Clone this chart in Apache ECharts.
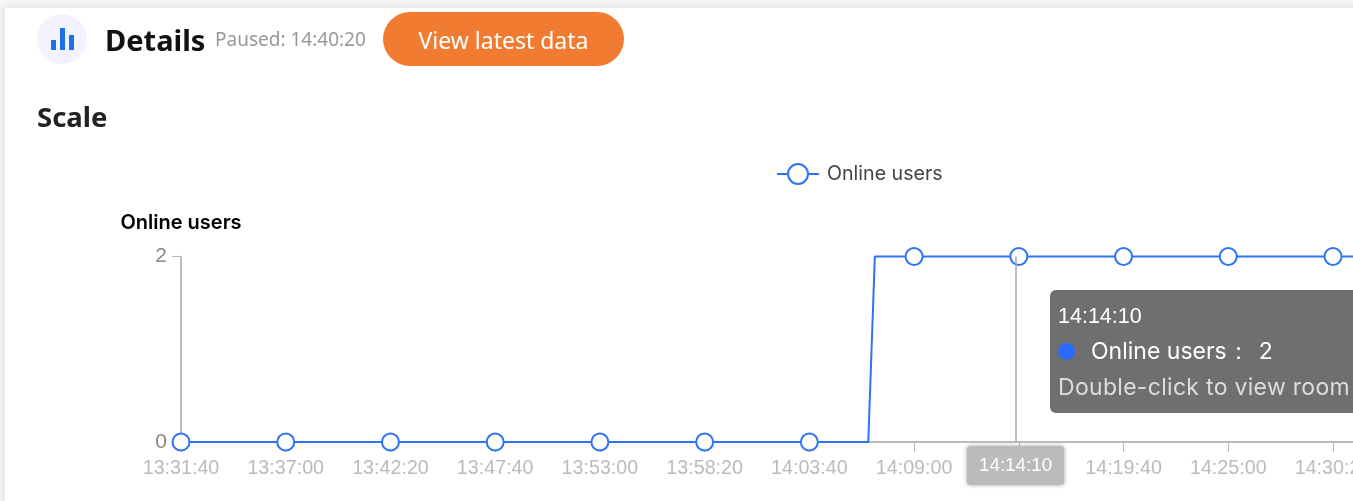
<!DOCTYPE html>
<html>
<head>
<meta charset="utf-8">
<title>Details</title>
<script src="https://cdn.jsdelivr.net/npm/echarts@6/dist/echarts.min.js"></script>
<style>
html,body{margin:0;padding:0;width:1353px;height:501px;overflow:hidden;background:#f6f6f6;font-family:"Noto Sans",sans-serif}
#card{position:absolute;left:5px;top:8px;width:1400px;height:520px;background:#fff;box-shadow:0 0 9px rgba(0,0,0,.12)}
#chart{position:absolute;left:0;top:0;width:1353px;height:501px;overflow:hidden}
.t{position:absolute;white-space:nowrap;line-height:1;z-index:2}
#icon{position:absolute;left:37px;top:14px;width:50px;height:50px;border-radius:50%;background:#f2f3ff;z-index:2}
.b{position:absolute;width:5px;background:#1a73e8;z-index:3}
#btn{position:absolute;left:383px;top:13px;width:241px;height:54px;border-radius:27px;z-index:2;color:#fff;font-size:23px;line-height:54px;text-align:center}
#btnbg{position:absolute;left:383px;top:12px;width:241px;height:54px;border-radius:27px;background:#f27b32;z-index:1}
</style>
</head>
<body>
<div id="card"></div>
<div id="chart"></div>
<div id="icon"></div>
<div class="b" style="left:51px;top:40px;height:10px"></div>
<div class="b" style="left:60px;top:28px;height:22px"></div>
<div class="b" style="left:69px;top:35px;height:15px"></div>
<div class="t" style="left:105px;top:25px;font-size:29px;font-weight:700;color:#111">Details</div>
<div class="t" style="left:215px;top:30px;font-size:19px;color:#999">Paused: 14:40:20</div>
<div id="btnbg"></div>
<div id="btn">View latest data</div>
<div class="t" style="left:37px;top:103px;font-size:27.5px;font-weight:700;color:#222">Scale</div>
<script>
var seriesName = 'Online users';
var yTicks = [0, 2];
var times = [
'13:31:40','13:31:50',
'13:32:00','13:32:10','13:32:20','13:32:30','13:32:40','13:32:50',
'13:33:00','13:33:10','13:33:20','13:33:30','13:33:40','13:33:50',
'13:34:00','13:34:10','13:34:20','13:34:30','13:34:40','13:34:50',
'13:35:00','13:35:10','13:35:20','13:35:30','13:35:40','13:35:50',
'13:36:00','13:36:10','13:36:20','13:36:30','13:36:40','13:36:50',
'13:37:00','13:37:10','13:37:20','13:37:30','13:37:40','13:37:50',
'13:38:00','13:38:10','13:38:20','13:38:30','13:38:40','13:38:50',
'13:39:00','13:39:10','13:39:20','13:39:30','13:39:40','13:39:50',
'13:40:00','13:40:10','13:40:20','13:40:30','13:40:40','13:40:50',
'13:41:00','13:41:10','13:41:20','13:41:30','13:41:40','13:41:50',
'13:42:00','13:42:10','13:42:20','13:42:30','13:42:40','13:42:50',
'13:43:00','13:43:10','13:43:20','13:43:30','13:43:40','13:43:50',
'13:44:00','13:44:10','13:44:20','13:44:30','13:44:40','13:44:50',
'13:45:00','13:45:10','13:45:20','13:45:30','13:45:40','13:45:50',
'13:46:00','13:46:10','13:46:20','13:46:30','13:46:40','13:46:50',
'13:47:00','13:47:10','13:47:20','13:47:30','13:47:40','13:47:50',
'13:48:00','13:48:10','13:48:20','13:48:30','13:48:40','13:48:50',
'13:49:00','13:49:10','13:49:20','13:49:30','13:49:40','13:49:50',
'13:50:00','13:50:10','13:50:20','13:50:30','13:50:40','13:50:50',
'13:51:00','13:51:10','13:51:20','13:51:30','13:51:40','13:51:50',
'13:52:00','13:52:10','13:52:20','13:52:30','13:52:40','13:52:50',
'13:53:00','13:53:10','13:53:20','13:53:30','13:53:40','13:53:50',
'13:54:00','13:54:10','13:54:20','13:54:30','13:54:40','13:54:50',
'13:55:00','13:55:10','13:55:20','13:55:30','13:55:40','13:55:50',
'13:56:00','13:56:10','13:56:20','13:56:30','13:56:40','13:56:50',
'13:57:00','13:57:10','13:57:20','13:57:30','13:57:40','13:57:50',
'13:58:00','13:58:10','13:58:20','13:58:30','13:58:40','13:58:50',
'13:59:00','13:59:10','13:59:20','13:59:30','13:59:40','13:59:50',
'14:00:00','14:00:10','14:00:20','14:00:30','14:00:40','14:00:50',
'14:01:00','14:01:10','14:01:20','14:01:30','14:01:40','14:01:50',
'14:02:00','14:02:10','14:02:20','14:02:30','14:02:40','14:02:50',
'14:03:00','14:03:10','14:03:20','14:03:30','14:03:40','14:03:50',
'14:04:00','14:04:10','14:04:20','14:04:30','14:04:40','14:04:50',
'14:05:00','14:05:10','14:05:20','14:05:30','14:05:40','14:05:50',
'14:06:00','14:06:10','14:06:20','14:06:30','14:06:40','14:06:50',
'14:07:00','14:07:10','14:07:20','14:07:30','14:07:40','14:07:50',
'14:08:00','14:08:10','14:08:20','14:08:30','14:08:40','14:08:50',
'14:09:00','14:09:10','14:09:20','14:09:30','14:09:40','14:09:50',
'14:10:00','14:10:10','14:10:20','14:10:30','14:10:40','14:10:50',
'14:11:00','14:11:10','14:11:20','14:11:30','14:11:40','14:11:50',
'14:12:00','14:12:10','14:12:20','14:12:30','14:12:40','14:12:50',
'14:13:00','14:13:10','14:13:20','14:13:30','14:13:40','14:13:50',
'14:14:00','14:14:10','14:14:20','14:14:30','14:14:40','14:14:50',
'14:15:00','14:15:10','14:15:20','14:15:30','14:15:40','14:15:50',
'14:16:00','14:16:10','14:16:20','14:16:30','14:16:40','14:16:50',
'14:17:00','14:17:10','14:17:20','14:17:30','14:17:40','14:17:50',
'14:18:00','14:18:10','14:18:20','14:18:30','14:18:40','14:18:50',
'14:19:00','14:19:10','14:19:20','14:19:30','14:19:40','14:19:50',
'14:20:00','14:20:10','14:20:20','14:20:30','14:20:40','14:20:50',
'14:21:00','14:21:10','14:21:20','14:21:30','14:21:40','14:21:50',
'14:22:00','14:22:10','14:22:20','14:22:30','14:22:40','14:22:50',
'14:23:00','14:23:10','14:23:20','14:23:30','14:23:40','14:23:50',
'14:24:00','14:24:10','14:24:20','14:24:30','14:24:40','14:24:50',
'14:25:00','14:25:10','14:25:20','14:25:30','14:25:40','14:25:50',
'14:26:00','14:26:10','14:26:20','14:26:30','14:26:40','14:26:50',
'14:27:00','14:27:10','14:27:20','14:27:30','14:27:40','14:27:50',
'14:28:00','14:28:10','14:28:20','14:28:30','14:28:40','14:28:50',
'14:29:00','14:29:10','14:29:20','14:29:30','14:29:40','14:29:50',
'14:30:00','14:30:10','14:30:20','14:30:30','14:30:40','14:30:50',
'14:31:00','14:31:10','14:31:20','14:31:30','14:31:40'
];
var onlineUsers = [
0,0,0,0,0,0,0,0,0,0, 0,0,0,0,0,0,0,0,0,0, 0,0,0,0,0,0,0,0,0,0,
0,0,0,0,0,0,0,0,0,0, 0,0,0,0,0,0,0,0,0,0, 0,0,0,0,0,0,0,0,0,0,
0,0,0,0,0,0,0,0,0,0, 0,0,0,0,0,0,0,0,0,0, 0,0,0,0,0,0,0,0,0,0,
0,0,0,0,0,0,0,0,0,0, 0,0,0,0,0,0,0,0,0,0, 0,0,0,0,0,0,0,0,0,0,
0,0,0,0,0,0,0,0,0,0, 0,0,0,0,0,0,0,0,0,0, 0,0,0,0,0,0,0,0,0,0,
0,0,0,0,0,0,0,0,0,0, 0,0,0,0,0,0,0,0,0,0, 0,0,0,0,0,0,0,0,0,0,
0,0,0,0,0,0,0,0,0,0, 0,0,0,0,0,0,0,0,0,0, 0,0,0,0,0,0,0,0,0,0, 0,
1,
2,2,2,2,2,2,2,2,2,2, 2,2,2,2,2,2,2,2,2,2, 2,2,2,2,2,2,2,2,2,2,
2,2,2,2,2,2,2,2,2,2, 2,2,2,2,2,2,2,2,2,2, 2,2,2,2,2,2,2,2,2,2,
2,2,2,2,2,2,2,2,2,2, 2,2,2,2,2,2,2,2,2,2, 2,2,2,2,2,2,2,2,2,2,
2,2,2,2,2,2,2,2,2,2, 2,2,2,2,2,2,2,2,2,2, 2,2,2,2,2,2,2,2,2,2,
2,2,2,2,2,2,2,2,2,2, 2,2,2,2,2,2,2,2,2,2, 2,2,2,2,2,2,2,2,2
];
var hoveredIndex = 255;
var BLUE = '#2e74f5', FONT = '"Liberation Sans",Arial,sans-serif', WIDE = 'Inter,"Liberation Sans",sans-serif';
var chart = echarts.init(document.getElementById('chart'), null, {renderer:'canvas'});
chart.setOption({
  animation:false,
  textStyle:{fontFamily:FONT},
  legend:{
    data:[seriesName], left:776, top:163, padding:0, itemWidth:42, itemHeight:25, itemGap:8,
    textStyle:{fontSize:19.6, color:'#444', fontFamily:WIDE, padding:[0,0,0,3]}
  },
  grid:{left:181, top:256.5, width:1178.2, height:185.5, containLabel:false, outerBoundsMode:'none'},
  tooltip:{
    trigger:'axis', confine:false, transitionDuration:0, showDelay:0,
    backgroundColor:'rgba(50,50,50,0.7)', borderWidth:0, padding:0,
    axisPointer:{type:'line', triggerEmphasis:false},
    position:function(){return [1050,290];},
    extraCssText:'box-shadow:none;border-radius:6px;width:340px;height:123px;box-sizing:border-box;',
    formatter:function(ps){
      var p = ps[0];
      return '<div style="font:21.5px/36px '+"'Liberation Sans'"+';color:#fff;padding:8px 0 0 8px;white-space:nowrap">'
        + p.axisValue + '<br>'
        + '<span style="display:inline-block;width:17px;height:17px;border-radius:50%;background:#2b6bff;margin-right:16px;vertical-align:-1px"></span>'
        + '<span style="font:23px Inter">' + p.seriesName + '：</span>'
        + '<span style="font:23px Inter;margin-left:9px">' + p.value + '</span><br>'
        + '<span style="color:#ddd;font:23px Inter;letter-spacing:.3px">Double-click to view room</span></div>';
    }
  },
  xAxis:{
    type:'category', boundaryGap:false, data:times, offset:1,
    axisLine:{lineStyle:{color:'#bbb', width:2}},
    axisTick:{interval:31, length:10, lineStyle:{color:'#bbb', width:1}},
    axisLabel:{interval:31, color:'#bbb', fontSize:19.7, margin:16, fontFamily:FONT, hideOverlap:false},
    axisPointer:{
      show:true, snap:true, triggerEmphasis:false, lineStyle:{color:'#aaa', width:1.5, type:'solid'},
      label:{show:true, backgroundColor:'#bbb', color:'#fff', fontSize:18.8, fontFamily:FONT,
        padding:[10,12,10,12], margin:3, shadowBlur:4, shadowColor:'rgba(0,0,0,.35)', shadowOffsetY:0}
    }
  },
  yAxis:{
    type:'value', min:yTicks[0], max:yTicks[1], interval:2,
    name:seriesName, nameLocation:'end', nameGap:34,
    nameTextStyle:{color:'#000', fontSize:20, fontWeight:600, fontFamily:WIDE, align:'center', verticalAlign:'middle'},
    axisLine:{show:true, lineStyle:{color:'#bbb', width:2}},
    axisTick:{show:true, length:9, lineStyle:{color:'#bbb', width:1}},
    splitLine:{show:false},
    axisLabel:{color:'#888', fontSize:21, margin:14, fontFamily:FONT, padding:[2,0,0,0]}
  },
  series:[{
    name:seriesName, type:'line', data:onlineUsers, smooth:false,
    showSymbol:true, showAllSymbol:false, symbol:'circle', symbolSize:17,
    itemStyle:{color:'#fff', borderColor:BLUE, borderWidth:2},
    lineStyle:{color:BLUE, width:2},
    emphasis:{disabled:true}, clip:false
  }]
});
chart.dispatchAction({type:'showTip', seriesIndex:0, dataIndex:hoveredIndex});
</script>
</body>
</html>
